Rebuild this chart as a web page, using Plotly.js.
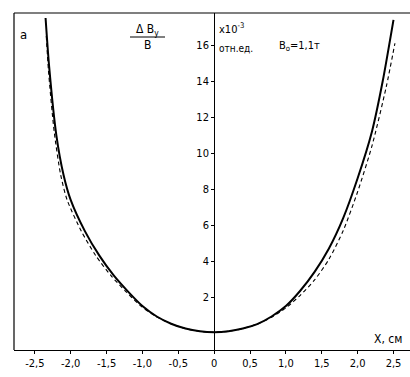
<!DOCTYPE html>
<html><head><meta charset="utf-8">
<script src="https://cdn.plot.ly/plotly-3.0.1.min.js"></script>
<style>html,body{margin:0;padding:0;background:#fff}#c{width:410px;height:377px}</style>
</head><body><div id="c"></div>
<script>
// solid curve
const solidX = [-2.35,-2.3,-2.2,-2.1,-2.0,-1.8,-1.6,-1.4,-1.2,-1.0,-0.8,-0.6,-0.4,-0.2,0,0.2,0.4,0.6,0.8,1.0,1.2,1.4,1.6,1.8,2.0,2.2,2.35,2.5];
const solidY = [17.5,14.8,11.0,8.8,7.4,5.65,4.3,3.2,2.3,1.5,0.92,0.52,0.25,0.1,0.05,0.1,0.25,0.5,0.92,1.5,2.35,3.4,4.7,6.4,8.6,11.2,14.0,17.4];
// dashed curve
const dashX = [-2.34,-2.31,-2.23,-2.14,-2.05,-1.85,-1.65,-1.44,-1.23,-1.02,-0.81,-0.6,-0.4,-0.2,0,0.2,0.4,0.6,0.8,1.0,1.2,1.4,1.6,1.8,2.0,2.2,2.4,2.52];
const dashY = [16.5,14.6,11.2,8.8,7.4,5.65,4.3,3.2,2.3,1.5,0.92,0.52,0.25,0.1,0.05,0.1,0.25,0.5,0.88,1.4,2.1,2.95,4.1,5.7,7.85,10.4,13.7,16.1];
const xTickVals = [-2.5,-2,-1.5,-1,-0.5,0,0.5,1,1.5,2,2.5];
const xTickText = ["-2,5","-2,0","-1,5","-1,0","-0,5","0","0,5","1,0","1,5","2,0","2,5"];
const yTickVals = [2,4,6,8,10,12,14,16];
const yTickText = ["2","4","6","8","10","12","14","16"];

const L=14, T=13, W=410, H=377, B=27;
const pw = W-L, ph = H-T-B;
const px = x => (x-L)/pw;
const py = y => (H-B-y)/ph;
const xr = [-2.79, 2.73];
const yAxisPos = (0 - xr[0])/(xr[1]-xr[0]);
const F = "DejaVu Sans Condensed, Liberation Sans Narrow, DejaVu Sans, sans-serif";

const traces = [
 {x: solidX, y: solidY, mode:'lines', line:{color:'#000', width:2, shape:'spline', smoothing:0.7}, hoverinfo:'skip'},
 {x: dashX, y: dashY, mode:'lines', line:{color:'#000', width:1.1, dash:'4px,3px', shape:'spline', smoothing:0.7}, hoverinfo:'skip'}
];
const ann = (x,y,t,s,xa) => ({xref:'paper',yref:'paper',x:px(x),y:py(y),text:t,showarrow:false,font:{family:F,size:s,color:'#000'},xanchor:xa||'center',yanchor:'middle'});
const layout = {
 width:W, height:H, margin:{l:L,r:0,t:T,b:B}, paper_bgcolor:'#fff', plot_bgcolor:'#fff', showlegend:false,
 xaxis:{range:xr, showgrid:false, zeroline:false, showline:true, linecolor:'#000', linewidth:1.2,
   ticks:'outside', ticklen:3, tickcolor:'#000', tickvals:xTickVals, ticktext:xTickText,
   tickfont:{family:F,size:11,color:'#000'}},
 yaxis:{range:[-0.94,17.78], showgrid:false, zeroline:false, showline:true, linecolor:'#000', linewidth:1.2,
   anchor:'free', position:yAxisPos, ticks:'outside', ticklen:3, tickcolor:'#000',
   tickvals:yTickVals, ticktext:yTickText, tickfont:{family:F,size:11,color:'#000'}},
 shapes:[
  {type:'line',xref:'paper',yref:'paper',x0:0,x1:0,y0:0,y1:1,line:{color:'#000',width:1.2}},
  {type:'line',xref:'paper',yref:'paper',x0:0,x1:1,y0:1,y1:1,line:{color:'#000',width:1.2}},
  {type:'line',xref:'paper',yref:'paper',x0:px(130),x1:px(165),y0:py(37),y1:py(37),line:{color:'#000',width:1}}
 ],
 annotations:[
  ann(23,34,'a',13),
  ann(147,30,'Δ B<sub>y</sub>',12),
  ann(147,45,'B',12),
  ann(217,29,'x10<sup>-3</sup>',11,'left'),
  ann(217,48,'отн.ед.',10,'left'),
  ann(277,46,'B<sub>o</sub>=1,1т',11,'left'),
  ann(388,339,'X, см',12)
 ]
};
Plotly.newPlot('c', traces, layout, {staticPlot:true});
</script></body></html>
